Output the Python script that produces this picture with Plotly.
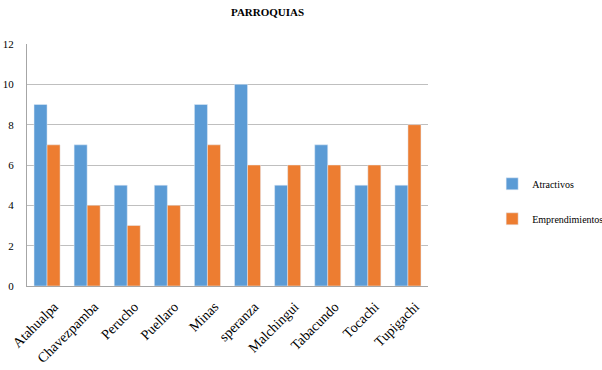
import plotly.graph_objects as go

categories = ["Atahualpa", "Chavezpamba", "Perucho", "Puellaro", "Minas",
              "speranza", "Malchingui", "Tabacundo", "Tocachi", "Tupigachi"]
atractivos = [9, 7, 5, 5, 9, 10, 5, 7, 5, 5]
emprendimientos = [7, 4, 3, 4, 7, 6, 6, 6, 6, 8]

font_family = "Liberation Serif"

fig = go.Figure()
fig.add_trace(go.Bar(x=categories, y=atractivos, name="Atractivos",
                     marker_color="#5B9BD5", legendgroup="a"))
fig.add_trace(go.Bar(x=categories, y=emprendimientos, name="Emprendimientos",
                     marker_color="#ED7D31", legendgroup="b"))

fig.update_layout(
    width=602, height=370,
    margin=dict(l=27, r=174, t=44, b=84, autoexpand=False),
    paper_bgcolor="white", plot_bgcolor="white",
    barmode="group", bargap=0.35, bargroupgap=0,
    font=dict(family=font_family, color="#000000"),
    title=dict(text="<b>PARROQUIAS</b>", x=0.6, xref="paper", xanchor="center",
               y=1 - 12/370, yref="container", yanchor="middle",
               font=dict(size=11, family=font_family)),
    showlegend=True,
    legend=dict(x=1.16, xanchor="left", y=0.35, yanchor="middle",
                font=dict(size=10, family=font_family),
                tracegroupgap=16, bgcolor="rgba(0,0,0,0)"),
)
fig.update_xaxes(tickangle=-45, tickfont=dict(size=14, family=font_family),
                 showline=True, linecolor="#a6a6a6", linewidth=1,
                 showgrid=False, ticks="", automargin=False,
                 ticklabelshift=7, ticklabelstandoff=6)
fig.update_yaxes(range=[0, 12], dtick=2, tickfont=dict(size=11, family=font_family),
                 showline=True, linecolor="#a6a6a6", linewidth=1,
                 showgrid=True, gridcolor="#bfbfbf", gridwidth=1,
                 zeroline=False, ticks="", ticklabelstandoff=10, automargin=False)

fig.write_html("out.html", config={"displayModeBar": False},
               post_script="document.body.style.margin='0';document.body.style.overflow='hidden';")
